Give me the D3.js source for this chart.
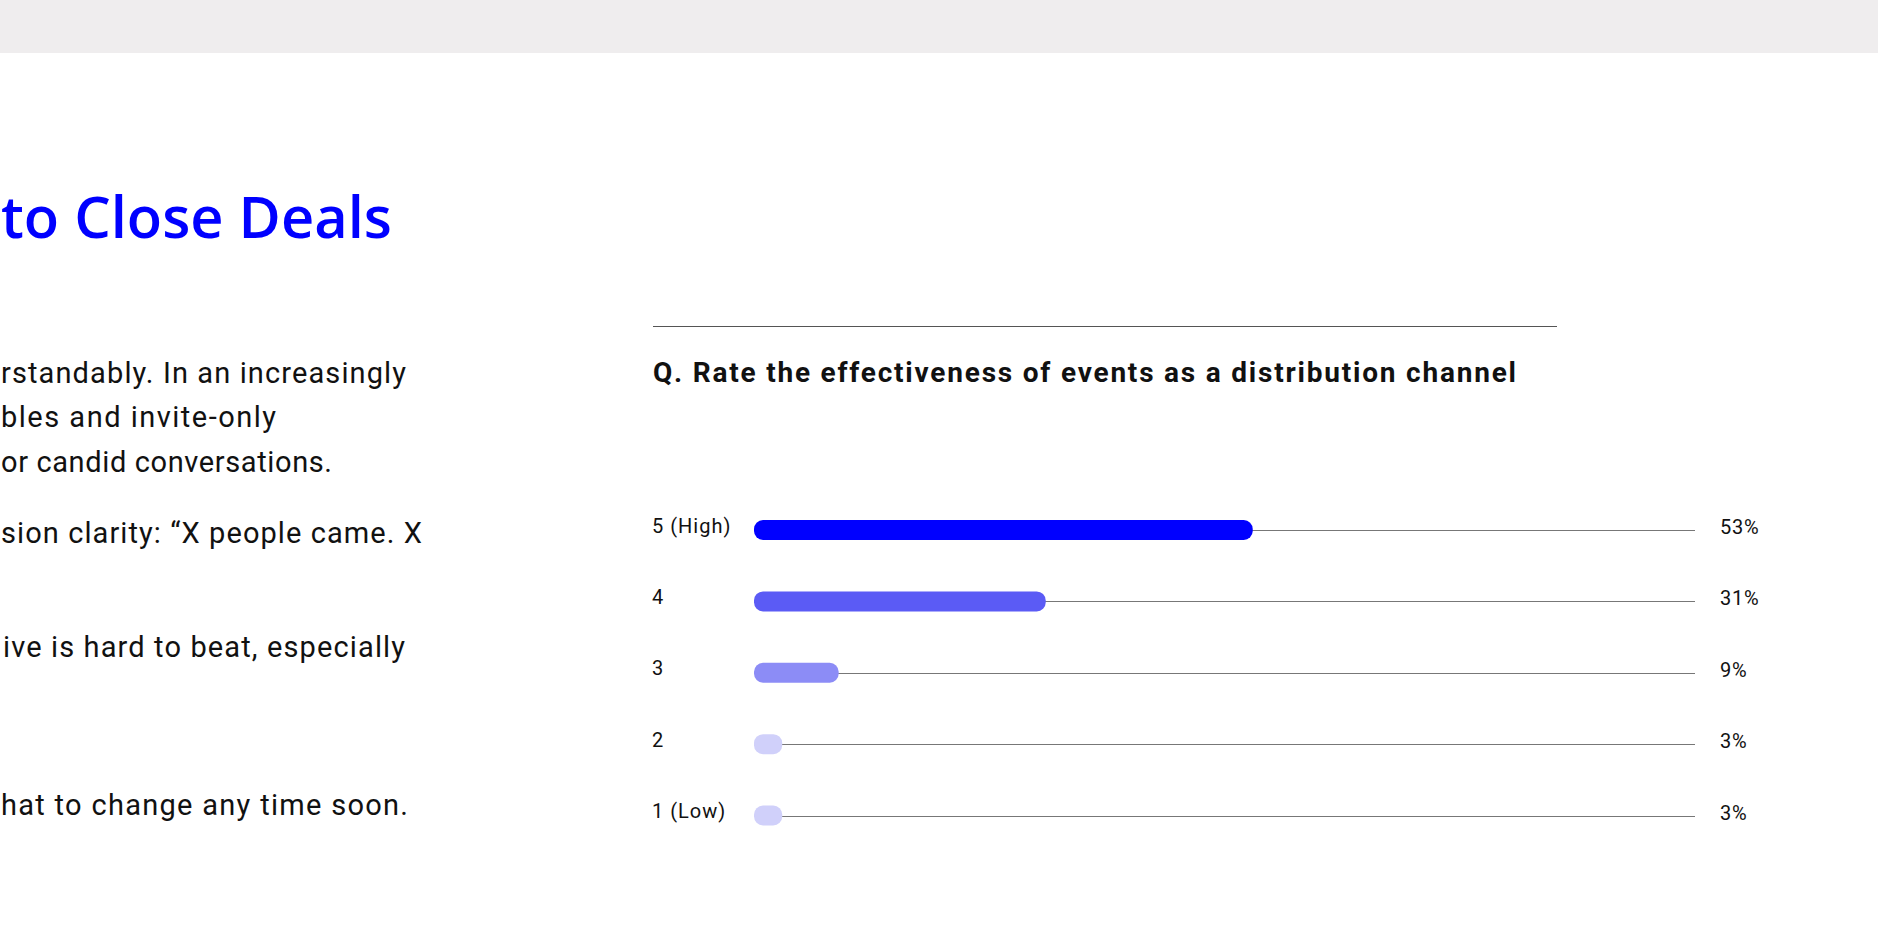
<!DOCTYPE html>
<html>
<head>
<meta charset="utf-8">
<script src="https://cdn.jsdelivr.net/npm/d3@7/dist/d3.min.js"></script>
<style>
  html, body { margin: 0; padding: 0; background: #ffffff; overflow: hidden; }
  svg { display: block; }
</style>
</head>
<body>
<svg id="chart" width="1878" height="946"></svg>
<script>
// ---- data ----
const categories = ["5 (High)", "4", "3", "2", "1 (Low)"];
const values = [53, 31, 9, 3, 3];
const valueLabels = ["53%", "31%", "9%", "3%", "3%"];
const barColors = ["#0000ff", "#5b5bf5", "#8c8cf6", "#d0d0fa", "#d0d0fa"];
const question = "Q. Rate the effectiveness of events as a distribution channel";
const headline = "to Close Deals";
const bodyLines = [
  "rstandably. In an increasingly",
  "bles and invite-only",
  "or candid conversations.",
  "sion clarity: \u201CX people came. X",
  "ive is hard to beat, especially",
  "hat to change any time soon."
];

// ---- layout ----
const W = 1878, H = 946;
const svg = d3.select("#chart");
const uiFont = "Roboto, 'Noto Sans', sans-serif";

svg.append("rect").attr("x", 0).attr("y", 0).attr("width", W).attr("height", H).attr("fill", "#ffffff");
svg.append("rect").attr("x", 0).attr("y", 0).attr("width", W).attr("height", 53).attr("fill", "#efedee");

// headline (left column)
svg.append("text")
  .attr("x", 1).attr("y", 238)
  .attr("font-family", "'Open Sans', sans-serif")
  .attr("font-weight", 600)
  .attr("font-size", 58)
  .attr("textLength", 391)
  .attr("lengthAdjust", "spacingAndGlyphs")
  .attr("fill", "#0000ff")
  .text(headline);

// body text (left column)
const bodyStarts = [1, 1, 1, 1, 3, 1];
const bodyEnds = [406, 276, 332, 422, 405, 408];
const bodyBase = [383, 427, 472, 543, 657, 815];
svg.append("g").selectAll("text").data(bodyLines).join("text")
  .attr("x", (d, i) => bodyStarts[i])
  .attr("y", (d, i) => bodyBase[i])
  .attr("textLength", (d, i) => bodyEnds[i] - bodyStarts[i])
  .attr("lengthAdjust", "spacing")
  .attr("font-family", uiFont)
  .attr("font-size", 29)
  .attr("fill", "#111111")
  .text(d => d);

// chart header
svg.append("line")
  .attr("x1", 653).attr("x2", 1557).attr("y1", 326.5).attr("y2", 326.5)
  .attr("stroke", "#555555").attr("stroke-width", 1);

svg.append("text")
  .attr("x", 653).attr("y", 382)
  .attr("textLength", 863)
  .attr("lengthAdjust", "spacing")
  .attr("font-family", uiFont)
  .attr("font-weight", 700)
  .attr("font-size", 28)
  .attr("fill", "#111111")
  .text(question);

// scales
const x = d3.scaleLinear().domain([0, 100]).range([754, 1695]);
const y = d3.scalePoint().domain(categories).range([530, 815.5]);
const barH = 20;

const rows = categories.map((c, i) => ({ cat: c, v: values[i], label: valueLabels[i], color: barColors[i] }));

const g = svg.append("g");

// tracks
g.selectAll("line.track").data(rows).join("line")
  .attr("class", "track")
  .attr("x1", x(0)).attr("x2", x(100))
  .attr("y1", d => Math.round(y(d.cat)) + 0.5)
  .attr("y2", d => Math.round(y(d.cat)) + 0.5)
  .attr("stroke", "#777777").attr("stroke-width", 1);

// bars
g.selectAll("rect.bar").data(rows).join("rect")
  .attr("class", "bar")
  .attr("x", x(0))
  .attr("y", d => y(d.cat) - barH / 2)
  .attr("width", d => x(d.v) - x(0))
  .attr("height", barH)
  .attr("rx", 9).attr("ry", 9)
  .attr("fill", d => d.color);

// category labels
g.selectAll("text.cat").data(rows).join("text")
  .attr("class", "cat")
  .attr("x", 652)
  .attr("y", d => y(d.cat) + 2.5)
  .attr("font-family", uiFont)
  .attr("font-size", 20)
  .attr("letter-spacing", 1)
  .attr("fill", "#111111")
  .text(d => d.cat);

// value labels
g.selectAll("text.val").data(rows).join("text")
  .attr("class", "val")
  .attr("x", 1720)
  .attr("y", d => y(d.cat) + 4)
  .attr("font-family", uiFont)
  .attr("font-size", 20)
  .attr("letter-spacing", 0.8)
  .attr("fill", "#111111")
  .text(d => d.label);
</script>
</body>
</html>
